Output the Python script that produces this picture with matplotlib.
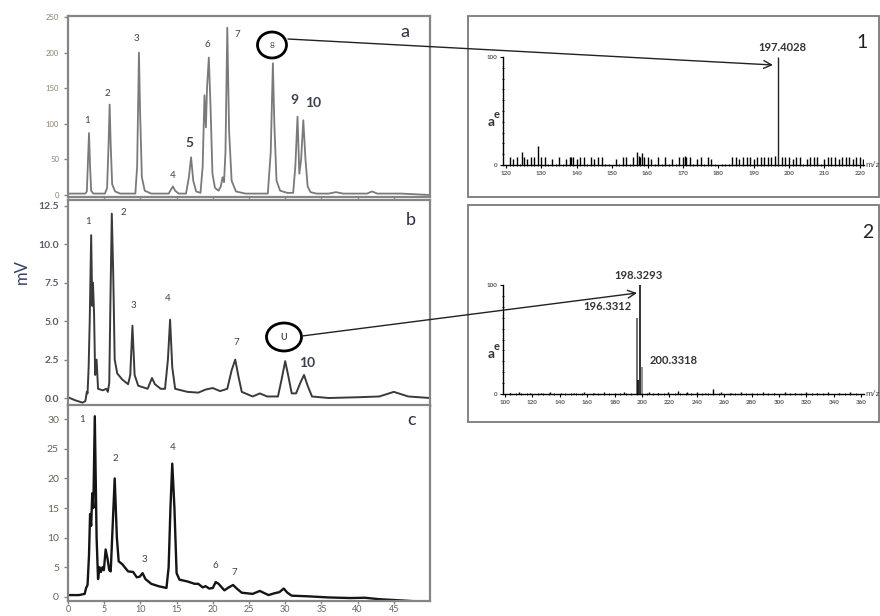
import matplotlib
matplotlib.use("Agg")
import matplotlib.pyplot as plt
from matplotlib.patches import Rectangle, Ellipse, FancyArrowPatch
from matplotlib.ticker import MultipleLocator

plt.rcParams['font.family'] = ['Lato', 'DejaVu Sans']

W, H = 880, 616

# chromatograms (retention time in min, signal in mV)
trace_a = [(0, 2), (2.4, 2), (2.6, 5), (2.75, 45), (2.9, 87), (3.05, 40), (3.2, 6), (3.5, 2),
           (5.1, 2), (5.4, 10), (5.6, 70), (5.75, 127), (5.9, 70), (6.1, 15), (6.5, 5), (7.2, 2),
           (9.3, 2), (9.55, 40), (9.8, 200), (9.95, 120), (10.2, 25), (10.6, 6), (11.5, 2),
           (13.9, 2), (14.3, 9), (14.5, 12), (14.8, 6), (15.3, 2),
           (16.3, 2), (16.7, 25), (17.0, 53), (17.3, 20), (17.7, 5), (18.3, 3),
           (18.6, 40), (18.85, 140), (19.05, 95), (19.2, 150), (19.45, 193), (19.7, 120), (19.95, 30),
           (20.3, 10), (20.8, 6), (21.1, 12), (21.35, 25), (21.55, 18), (21.75, 60), (22.0, 235),
           (22.25, 90), (22.6, 20), (23.2, 5), (24.5, 2),
           (27.6, 2), (28.0, 60), (28.3, 185), (28.5, 100), (28.8, 20), (29.3, 6), (30.3, 3),
           (31.1, 3), (31.4, 40), (31.7, 110), (31.95, 30), (32.2, 50), (32.5, 105), (32.8, 50),
           (33.1, 12), (33.5, 4), (34.3, 2), (36.0, 2), (37.0, 4), (38.0, 2), (41.3, 2),
           (42.0, 5), (42.7, 2), (46.0, 2), (50.0, 0)]

trace_b = [(0, 0.05), (1.0, -0.15), (2.0, -0.3), (2.4, -0.2), (2.6, 0.4), (2.7, 0.3), (2.85, 2.0),
           (3.0, 5.0), (3.2, 10.6), (3.35, 6.0), (3.45, 7.5), (3.6, 5.5), (3.75, 1.5), (3.95, 2.5),
           (4.15, 0.6), (4.8, 0.5), (5.3, 0.6), (5.5, 0.4), (5.7, 1.0), (5.85, 6.0), (6.05, 12.0),
           (6.25, 8.0), (6.45, 2.5), (6.8, 1.6), (7.5, 1.2), (8.3, 0.9), (8.6, 1.5), (8.9, 4.7),
           (9.2, 1.5), (9.7, 0.8), (11.0, 0.6), (11.6, 1.3), (12.0, 0.9), (12.8, 0.6), (13.4, 0.6),
           (13.8, 2.5), (14.1, 5.1), (14.4, 2.0), (14.8, 0.6), (16.5, 0.4), (18.0, 0.35),
           (19.0, 0.55), (20.0, 0.65), (21.0, 0.45), (22.0, 0.6), (22.6, 1.8), (23.1, 2.5),
           (23.5, 1.5), (24.0, 0.4), (25.5, 0.1), (26.5, 0.3), (27.5, 0.1), (29.0, 0.1),
           (29.5, 1.2), (30.0, 2.4), (30.4, 1.5), (30.9, 0.3), (31.5, 0.3), (32.1, 1.0),
           (32.6, 1.5), (33.1, 0.8), (33.7, 0.1), (36.0, 0.0), (40.0, 0.05), (43.0, 0.1),
           (45.0, 0.4), (47.0, 0.1), (50.0, 0.0)]

trace_c = [(0, 0.3), (1.5, 0.3), (2.3, 0.5), (2.5, 1.5), (2.7, 2.0), (2.9, 7.0), (3.05, 14.0),
           (3.2, 12), (3.35, 17.5), (3.5, 15), (3.7, 30.5), (3.95, 10), (4.15, 3.0), (4.35, 5.0),
           (4.55, 4.2), (4.75, 5.0), (4.95, 4.5), (5.2, 8.0), (5.45, 6.5), (5.7, 4.5), (5.9, 4.3),
           (6.1, 10), (6.45, 20.0), (6.75, 10.0), (7.0, 6.0), (7.5, 5.5), (8.3, 4.3), (9.0, 4.2),
           (9.5, 3.3), (9.9, 3.4), (10.3, 4.0), (10.7, 3.0), (11.5, 2.2), (12.5, 1.8), (13.6, 1.5),
           (13.9, 5), (14.15, 15), (14.4, 22.5), (14.7, 15), (15.0, 4), (15.4, 2.9), (16.5, 2.6),
           (17.5, 2.2), (18.0, 2.2), (18.6, 1.6), (19.0, 1.8), (19.5, 1.4), (20.0, 1.5),
           (20.4, 2.5), (20.8, 2.2), (21.6, 1.1), (22.2, 1.6), (22.8, 2.0), (23.4, 1.3),
           (24.0, 0.7), (25.5, 0.5), (26.5, 1.0), (27.0, 0.7), (27.7, 0.3), (28.5, 0.6),
           (29.2, 0.8), (29.8, 1.4), (30.3, 0.7), (30.9, 0.2), (33, 0.1), (36, -0.1), (39, -0.2),
           (41, -0.15), (43, -0.4), (46, -0.6), (50, -0.9)]

time_ticks = [0, 5, 10, 15, 20, 25, 30, 35, 40, 45]

# peak labels: (text, time, mV, big)
labels_a = [("1", 2.6, 105, False), ("2", 5.4, 143, False), ("3", 9.4, 220, False),
            ("4", 14.5, 27, False), ("5", 16.8, 73, True), ("6", 19.2, 211, False),
            ("7", 23.4, 225, False), ("9", 31.3, 133, True), ("10", 33.8, 129, True)]
labels_b = [("1", 2.8, 11.5, False), ("2", 7.6, 12.1, False), ("3", 9.0, 6.0, False),
            ("4", 13.8, 6.5, False), ("7", 23.2, 3.6, False), ("10", 33.0, 2.3, True)]
labels_c = [("1", 1.9, 30, False), ("2", 6.5, 23.3, False), ("3", 10.6, 6.3, False),
            ("4", 14.5, 25.2, False), ("6", 20.4, 5.3, False), ("7", 23.0, 4.1, False)]

# mass spectra (m/z, relative abundance)
ms1_peak = (197.4028, 100)
ms1_noise_mz = [121, 122, 123, 124.5, 125, 126, 127, 128, 129, 130, 131, 133, 135, 137, 138,
                138.5, 139, 140, 141, 142, 144, 145, 146, 147, 151, 153, 154, 156, 157, 157.5,
                158, 158.5, 159, 160, 161, 163, 165, 167, 169, 170, 170.5, 171, 172, 174, 175,
                177, 178, 184, 185, 186, 187, 188, 189, 190, 191, 192, 193, 194, 195, 196, 198,
                199, 200, 201, 202, 203, 205, 206, 207, 208, 210, 211, 212, 213, 214, 215, 216,
                217, 218, 219, 220, 221]
ms1_noise_ab = [7, 6, 7, 12, 7, 6, 7, 7, 18, 7, 7, 6, 7, 6, 7,
                7, 7, 6, 7, 7, 7, 6, 7, 7, 6, 7, 7, 7, 12, 8,
                7, 11, 7, 7, 6, 7, 7, 6, 7, 7, 8, 7, 7, 6, 7,
                7, 6, 7, 7, 6, 7, 7, 7, 6, 7, 7, 7, 7, 7, 8, 7,
                7, 7, 6, 7, 7, 6, 7, 7, 7, 6, 7, 7, 7, 6, 7, 7,
                7, 6, 7, 7, 6]
ms2_peaks_mz = [196.3312, 197.3, 198.3293, 200.3318]
ms2_peaks_ab = [70, 13, 100, 25]
ms2_noise_mz = [104, 110, 118, 126, 133, 141, 150, 158, 165, 172, 180, 187, 205, 212, 219, 226,
                233, 240, 246, 252, 258, 265, 272, 280, 288, 296, 304, 312, 320, 328, 336, 344, 352]
ms2_noise_ab = [1, 2, 1, 1, 2, 1, 1, 2, 1, 2, 1, 2, 2, 1, 2, 3, 2, 2, 1, 5, 2, 1, 2, 1, 2, 1,
                2, 1, 2, 1, 2, 1, 2]
ms1_label = "197.4028"
ms2_labels = ["196.3312", "198.3293", "200.3318"]


def box(l, t, r, b):
    return [l / W, 1 - b / H, (r - l) / W, (b - t) / H]


def fp(x, y):
    return (x / W, 1 - y / H)


fig = plt.figure(figsize=(8.8, 6.16), dpi=100)

frame_col = '#858585'
ax_a = fig.add_axes(box(68, 16, 430, 197))
ax_b = fig.add_axes(box(68, 200, 430, 406))
ax_c = fig.add_axes(box(68, 405, 430, 601))

panels = [(ax_a, trace_a, labels_a, (-2.8, 251.4), 50, '#7a7a7a', 1.3, 'a', 229),
          (ax_b, trace_b, labels_b, (-0.52, 12.89), 2.5, '#3a3a3a', 1.4, 'b', 11.6),
          (ax_c, trace_c, labels_c, (-0.7, 32.4), 5, '#151515', 1.7, 'c', 29.8)]

for ax, tr, labs, ylim, step, col, lw, letter, ly in panels:
    t = [p[0] for p in tr]
    v = [p[1] for p in tr]
    ax.plot(t, v, color=col, lw=lw, solid_joinstyle='round')
    ax.set_xlim(0, 50)
    ax.set_ylim(*ylim)
    ax.yaxis.set_major_locator(MultipleLocator(step))
    ax.set_xticks(time_ticks)
    for s in ax.spines.values():
        s.set_color(frame_col)
        s.set_linewidth(1.6)
    ax.tick_params(length=3, width=1, color=frame_col)
    for txt, x, y, big in labs:
        ax.text(x, y, txt, ha='center', va='center',
                fontsize=10 if big else 7, fontweight='bold' if big else 'normal',
                color='#3c4050')
    ax.text(47.4 if letter != 'a' else 46.5, ly, letter, ha='center', va='center',
            fontsize=13, color='#2a2e45')

ax_a.tick_params(axis='y', labelsize=5.5, labelcolor='#8a8070')
ax_a.tick_params(axis='x', labelbottom=False)
ax_b.tick_params(axis='y', labelsize=7.5, labelcolor='#5a5c6c')
for lb in ax_b.get_yticklabels():
    lb.set_fontweight('bold')
ax_b.yaxis.set_major_formatter(matplotlib.ticker.FormatStrFormatter('%.1f'))
ax_b.tick_params(axis='x', labelbottom=False)
ax_c.tick_params(axis='y', labelsize=7.5, labelcolor='#6b6455')
ax_c.tick_params(axis='x', labelsize=6.5, labelcolor='#6b6455', pad=1, length=2)

fig.text(22 / W, 1 - 272 / H, "mV", rotation=90, ha='center', va='center',
         fontsize=12, color='#34406a')

# mass spectrum boxes
for l, t, r, b in [(468, 16, 879, 197), (468, 205, 879, 422)]:
    fig.patches.append(Rectangle(fp(l, b), (r - l) / W, (b - t) / H, transform=fig.transFigure,
                                 fill=False, edgecolor='#7a7a7a', lw=1.3))

ax_s1 = fig.add_axes(box(503, 57, 864, 165))
ax_s2 = fig.add_axes(box(503, 285, 864, 394))

ax_s1.vlines(ms1_noise_mz, 0, ms1_noise_ab, color='black', lw=1.0)
ax_s1.vlines([ms1_peak[0] - 0.6], 0, [ms1_peak[1]], color='#222222', lw=1.0)
ax_s1.set_xlim(119.15, 221.2)
ax_s1.xaxis.set_major_locator(MultipleLocator(10))
ax_s1.xaxis.set_minor_locator(MultipleLocator(1))
ax_s1.text(ms1_peak[0] + 0.8, 104, ms1_label, ha='center', va='bottom', fontsize=8,
           fontweight='bold', color='#333333')

ax_s2.vlines(ms2_noise_mz, 0, ms2_noise_ab, color='black', lw=1.0)
ax_s2.vlines(ms2_peaks_mz, 0, ms2_peaks_ab, color=['#666666', '#111111', '#222222', '#888888'], lw=1.3)
ax_s2.set_xlim(98.55, 362)
ax_s2.xaxis.set_major_locator(MultipleLocator(20))
ax_s2.xaxis.set_minor_locator(MultipleLocator(4))
ax_s2.text(ms2_peaks_mz[0] - 4, 75, ms2_labels[0], ha='right', va='bottom', fontsize=8,
           fontweight='bold', color='#333333')
ax_s2.text(ms2_peaks_mz[2] - 1, 104, ms2_labels[1], ha='center', va='bottom', fontsize=8,
           fontweight='bold', color='#333333')
ax_s2.text(ms2_peaks_mz[3] + 5, 26, ms2_labels[2], ha='left', va='bottom', fontsize=8,
           fontweight='bold', color='#333333')

for ax in (ax_s1, ax_s2):
    ax.set_ylim(0, 100)
    ax.patch.set_alpha(0)
    ax.spines['top'].set_visible(False)
    ax.spines['right'].set_visible(False)
    ax.spines['left'].set_linewidth(1.0)
    ax.spines['bottom'].set_linewidth(1.0)
    ax.yaxis.set_major_locator(MultipleLocator(100))
    ax.yaxis.set_minor_locator(MultipleLocator(10))
    ax.tick_params(which='major', length=2, width=0.8, labelsize=4.5, pad=2)
    ax.tick_params(which='minor', length=1.5, width=0.6, direction='inout')
    for lb in ax.get_xticklabels() + ax.get_yticklabels():
        lb.set_fontweight('bold')
        lb.set_color('#555555')

fig.text(865 / W, 1 - 165 / H, "m/z", ha='left', va='center', fontsize=6, color='#444444')
fig.text(865 / W, 1 - 394 / H, "m/z", ha='left', va='center', fontsize=6, color='#444444')
for yy in (122, 354):
    fig.text(491 / W, 1 - yy / H, "a", ha='center', va='center', fontsize=10,
             fontweight='bold', color='#333333')
    fig.text(497 / W, 1 - (yy - 7) / H, "e", ha='center', va='center', fontsize=8,
             fontweight='bold', color='#333333')

fig.text(862 / W, 1 - 42 / H, "1", ha='center', va='center', fontsize=14, color='#222222')
fig.text(868 / W, 1 - 232 / H, "2", ha='center', va='center', fontsize=14, color='#222222')

# circled compounds and arrows to their spectra
fig.patches.append(Ellipse(fp(272, 45), 29 / W, 26 / H, transform=fig.transFigure,
                           fill=False, edgecolor='black', lw=2.0))
fig.text(272 / W, 1 - 45 / H, "8", ha='center', va='center', fontsize=6, color='#444455')
fig.patches.append(Ellipse(fp(284, 337), 35 / W, 28 / H, transform=fig.transFigure,
                           fill=False, edgecolor='black', lw=2.0))
fig.text(284 / W, 1 - 337 / H, "U", ha='center', va='center', fontsize=6.5,
         fontweight='bold', color='#444455')

for start, end in [((288, 39), (773, 65)), ((302, 336), (637, 293))]:
    fig.patches.append(FancyArrowPatch(fp(*start), fp(*end), transform=fig.transFigure,
                                       arrowstyle='->', mutation_scale=14, lw=1.0,
                                       color='#222222', shrinkA=0, shrinkB=0))

fig.savefig("out.png", dpi=100)
